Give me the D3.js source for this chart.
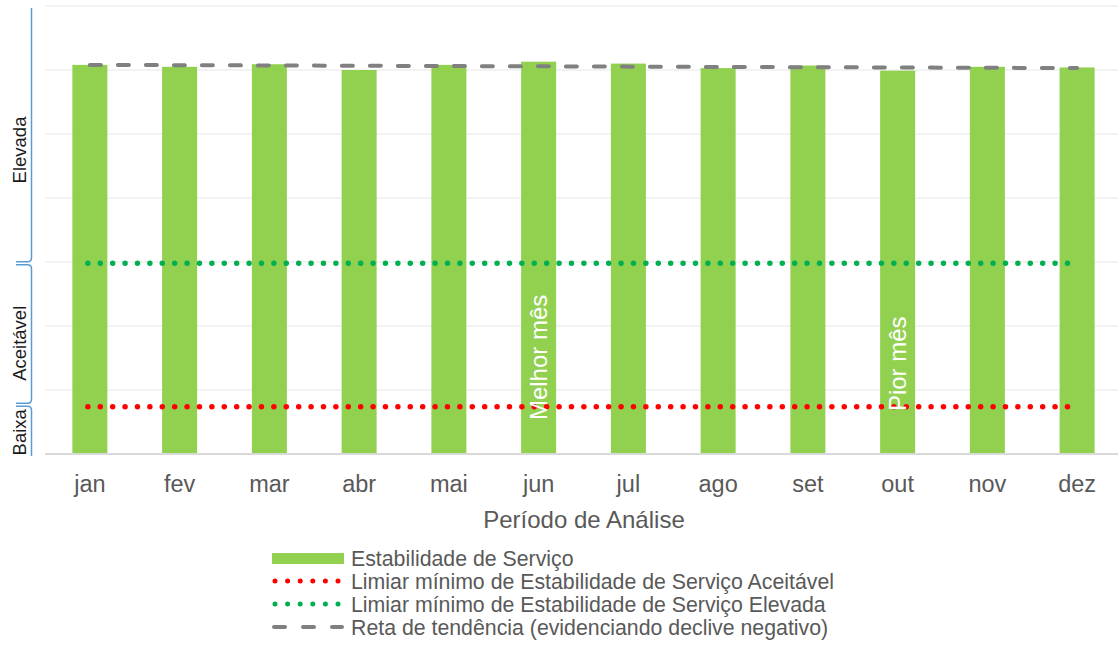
<!DOCTYPE html>
<html>
<head>
<meta charset="utf-8">
<script src="https://cdn.jsdelivr.net/npm/d3@7"></script>
<style>
  body { margin: 0; background: #fff; }
  text { font-family: "Liberation Sans", Arial, sans-serif; }
</style>
</head>
<body>
<div id="chart"></div>
<script>
// chart data
const months = ["jan", "fev", "mar", "abr", "mai", "jun", "jul", "ago", "set", "out", "nov", "dez"];
const stability = [6.08, 6.05, 6.09, 6.0, 6.08, 6.13, 6.1, 6.03, 6.07, 5.99, 6.05, 6.04];
const thresholdAcceptable = 0.74;
const thresholdHigh = 2.98;
const trendStart = 6.08;
const trendEnd = 6.03;
const levels = ["Baixa", "Aceitável", "Elevada"];
const levelBounds = [[0, 0.77], [0.77, 2.98], [2.98, 6.97]];
const levelLabelAt = [0.34, 1.73, 4.75];
const annotations = [
    { month: "jun", label: "Melhor mês", at: 0.53 },
    { month: "out", label: "Pior mês", at: 0.67 }
];
const legendLabels = [
    "Estabilidade de Serviço",
    "Limiar mínimo de Estabilidade de Serviço Aceitável",
    "Limiar mínimo de Estabilidade de Serviço Elevada",
    "Reta de tendência (evidenciando declive negativo)"
];

const width = 1118;
const height = 645;
const plotTop = 6, plotBottom = 454, plotLeft = 45, plotRight = 1122;

const svg = d3.select("#chart")
    .append("svg")
    .attr("width", width)
    .attr("height", height);

const x = d3.scaleBand()
    .domain(months)
    .range([plotLeft, plotRight])
    .paddingInner(0.61)
    .paddingOuter(0.305);

const y = d3.scaleLinear()
    .domain([0, 7])
    .range([plotBottom, plotTop]);

const cx = d => x(d) + x.bandwidth() / 2;

// gridlines
svg.append("g")
    .selectAll("line")
    .data(y.ticks(7).filter(t => t > 0))
    .enter()
    .append("line")
    .attr("x1", plotLeft)
    .attr("x2", width)
    .attr("y1", d => y(d))
    .attr("y2", d => y(d))
    .attr("stroke", "#efefef")
    .attr("stroke-width", 1.5);

// bars
svg.append("g")
    .selectAll("rect")
    .data(months)
    .enter()
    .append("rect")
    .attr("x", d => x(d))
    .attr("y", (d, i) => y(stability[i]))
    .attr("width", x.bandwidth())
    .attr("height", (d, i) => y(0) - y(stability[i]))
    .attr("fill", "#92d050");

// baseline
svg.append("line")
    .attr("x1", plotLeft)
    .attr("x2", width)
    .attr("y1", y(0))
    .attr("y2", y(0))
    .attr("stroke", "#d9d9d9")
    .attr("stroke-width", 2);

// threshold lines
const first = cx(months[0]) - 2, last = cx(months[months.length - 1]);
[[thresholdHigh, "#00b050"], [thresholdAcceptable, "#ff0000"]].forEach(([v, c]) => {
    svg.append("line")
        .attr("x1", first)
        .attr("x2", last)
        .attr("y1", y(v))
        .attr("y2", y(v))
        .attr("stroke", c)
        .attr("stroke-width", 5.5)
        .attr("stroke-linecap", "round")
        .attr("stroke-dasharray", "0 12.4");
});

// trend line
svg.append("line")
    .attr("x1", cx(months[0]))
    .attr("x2", last)
    .attr("y1", y(trendStart))
    .attr("y2", y(trendEnd))
    .attr("stroke", "#808080")
    .attr("stroke-width", 4)
    .attr("stroke-linecap", "round")
    .attr("stroke-dasharray", "11 17");

// annotations inside bars
annotations.forEach(a => {
    svg.append("text")
        .attr("transform", `translate(${cx(a.month) + 8.5},${y(a.at)}) rotate(-90)`)
        .attr("fill", "#fff")
        .style("font-size", "24px")
        .text(a.label);
});

// x axis labels
svg.append("g")
    .selectAll("text")
    .data(months)
    .enter()
    .append("text")
    .attr("x", d => cx(d))
    .attr("y", 492)
    .attr("text-anchor", "middle")
    .attr("fill", "#595959")
    .style("font-size", "23.5px")
    .text(d => d);

svg.append("text")
    .attr("x", 584)
    .attr("y", 528)
    .attr("text-anchor", "middle")
    .attr("fill", "#595959")
    .style("font-size", "24px")
    .text("Período de Análise");

// level braces on the left
const bx = 31.5, stub = 16;
const brace = svg.append("g")
    .attr("fill", "none")
    .attr("stroke", "#5b9bd5")
    .attr("stroke-width", 1.5);
levelBounds.forEach(([lo, hi], i) => {
    const y0 = y(hi), y1 = y(lo);
    let p = "";
    if (i === levelBounds.length - 1) p += `M${bx},${y0}`;
    else p += `M${stub},${y0 + 1.5} L${bx - 4},${y0 + 1.5} Q${bx},${y0 + 1.5} ${bx},${y0 + 5.5}`;
    if (i === 0) p += ` L${bx},${y1 + 2}`;
    else p += ` L${bx},${y1 - 5.5} Q${bx},${y1 - 1.5} ${bx - 4},${y1 - 1.5} L${stub},${y1 - 1.5}`;
    brace.append("path").attr("d", p);
    svg.append("text")
        .attr("transform", `translate(25.5,${y(levelLabelAt[i])}) rotate(-90)`)
        .attr("text-anchor", "middle")
        .attr("fill", "#1a1a1a")
        .style("font-size", "18.5px")
        .text(levels[i]);
});

// legend
const legend = svg.append("g").attr("transform", "translate(272,558)");
const rowH = 23;
legendLabels.forEach((label, i) => {
    const g = legend.append("g").attr("transform", `translate(0,${i * rowH})`);
    if (i === 0) {
        g.append("rect").attr("x", 0).attr("y", -5).attr("width", 72).attr("height", 11).attr("fill", "#92d050");
    } else if (i < 3) {
        g.append("line")
            .attr("x1", 3).attr("x2", 70).attr("y1", 0).attr("y2", 0)
            .attr("stroke", i === 1 ? "#ff0000" : "#00b050")
            .attr("stroke-width", 5)
            .attr("stroke-linecap", "round")
            .attr("stroke-dasharray", "0 12.6");
    } else {
        g.append("line")
            .attr("x1", 2).attr("x2", 70).attr("y1", 0).attr("y2", 0)
            .attr("stroke", "#808080")
            .attr("stroke-width", 4)
            .attr("stroke-linecap", "round")
            .attr("stroke-dasharray", "11 18");
    }
    g.append("text")
        .attr("x", 79)
        .attr("y", 7.5)
        .attr("fill", "#595959")
        .style("font-size", "21.3px")
        .text(label);
});
</script>
</body>
</html>
